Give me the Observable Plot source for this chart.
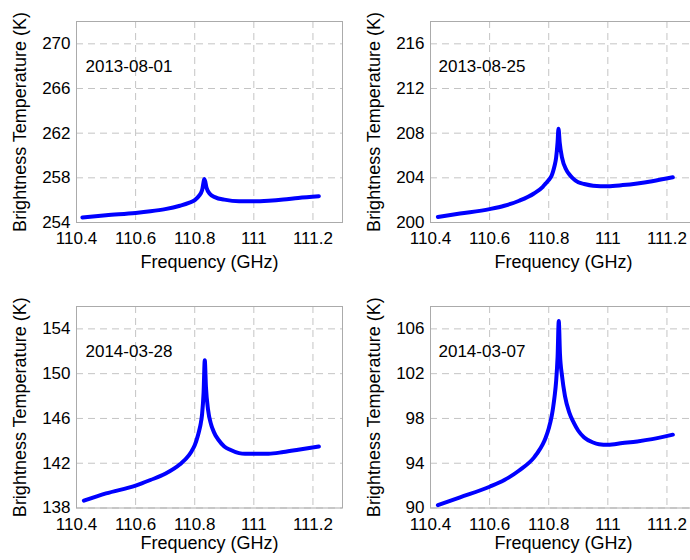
<!DOCTYPE html>
<html>
<head>
<meta charset="utf-8">
<script src="https://cdn.jsdelivr.net/npm/d3@7"></script>
<script src="https://cdn.jsdelivr.net/npm/@observablehq/plot@0.6"></script>
<style>
  html, body { margin: 0; padding: 0; background: #fff; }
  #chart { position: relative; width: 690px; height: 560px; overflow: hidden; background: #fff; }
</style>
</head>
<body>
<div id="chart"></div>
<script>
// ---- data ----
const xTicks = [110.4, 110.6, 110.8, 111, 111.2];
const xLabel = "Frequency (GHz)";
const yLabel = "Brightness Temperature (K)";

const dates = ["2013-08-01", "2013-08-25", "2014-03-28", "2014-03-07"];

const yTicksA = [254, 258, 262, 266, 270];
const yTicksB = [200, 204, 208, 212, 216];
const yTicksC = [138, 142, 146, 150, 154];
const yTicksD = [90, 94, 98, 102, 106];

const freqA = [110.42, 110.5, 110.6, 110.65, 110.7, 110.75, 110.78, 110.8, 110.815, 110.825, 110.833, 110.84, 110.85, 110.87, 110.9, 110.95, 111.0, 111.05, 111.1, 111.15, 111.22];
const tbA   = [254.45, 254.65, 254.85, 255.0, 255.2, 255.5, 255.75, 256.0, 256.4, 256.9, 257.9, 257.1, 256.6, 256.25, 256.05, 255.9, 255.9, 255.95, 256.05, 256.2, 256.35];

const freqB = [110.425, 110.5, 110.6, 110.65, 110.7, 110.75, 110.78, 110.79, 110.8, 110.81, 110.815, 110.82, 110.825, 110.83, 110.833, 110.837, 110.845, 110.86, 110.87, 110.88, 110.9, 110.92, 110.95, 111.0, 111.05, 111.1, 111.15, 111.22];
const tbB   = [200.5, 200.8, 201.2, 201.5, 201.95, 202.6, 203.2, 203.5, 203.8, 204.2, 204.6, 205.1, 205.8, 207.2, 208.4, 207.2, 205.8, 204.7, 204.3, 204.0, 203.6, 203.45, 203.3, 203.25, 203.35, 203.5, 203.7, 204.05];

const freqC = [110.425, 110.5, 110.6, 110.65, 110.7, 110.75, 110.78, 110.79, 110.8, 110.81, 110.815, 110.82, 110.825, 110.83, 110.834, 110.838, 110.845, 110.855, 110.86, 110.87, 110.88, 110.9, 110.92, 110.95, 110.97, 111.0, 111.05, 111.1, 111.15, 111.22];
const tbC   = [138.65, 139.3, 140.0, 140.5, 141.05, 141.9, 142.7, 143.1, 143.6, 144.4, 144.9, 145.5, 146.4, 148.3, 151.2, 148.8, 146.8, 145.5, 145.1, 144.5, 144.1, 143.5, 143.2, 142.9, 142.85, 142.85, 142.85, 143.0, 143.2, 143.5];

const freqD = [110.425, 110.5, 110.6, 110.65, 110.7, 110.75, 110.76, 110.78, 110.79, 110.8, 110.81, 110.815, 110.82, 110.825, 110.83, 110.834, 110.838, 110.845, 110.855, 110.87, 110.885, 110.9, 110.92, 110.95, 110.97, 111.0, 111.05, 111.1, 111.15, 111.22];
const tbD   = [90.25, 90.95, 91.9, 92.5, 93.35, 94.5, 94.85, 95.7, 96.3, 97.1, 98.2, 99.0, 100.0, 101.3, 103.5, 106.7, 103.8, 101.8, 100.0, 98.5, 97.6, 96.9, 96.3, 95.85, 95.7, 95.65, 95.8, 95.95, 96.15, 96.55];

// ---- drawing ----
const FONT = "'Liberation Sans', Arial, Helvetica, sans-serif";

function panel(freq, tb, yTicks, date, opts) {
  const data = freq.map((f, i) => ({f, t: tb[i]}));
  const svg = Plot.plot({
    width: 345,
    height: 280,
    marginLeft: 76,
    marginRight: 3,
    marginTop: opts.mt,
    marginBottom: opts.mb,
    x: {domain: [110.4, 111.3]},
    y: {domain: [yTicks[0], yTicks[0] + 18]},
    style: {fontFamily: FONT, fontSize: "17px", color: "#000", background: "transparent", overflow: "visible"},
    marks: [
      Plot.gridX(xTicks, {stroke: "#c4c4c4", strokeOpacity: 1, strokeDasharray: "7,5"}),
      Plot.gridY(yTicks, {stroke: "#c4c4c4", strokeOpacity: 1, strokeDasharray: "7,5"}),
      Plot.frame({stroke: "#ababab"}),
      Plot.axisX(xTicks, {tickSize: 0, tickPadding: opts.tp, tickFormat: d => String(d), label: null, fontSize: 17}),
      Plot.axisY(yTicks, {tickSize: 0, tickPadding: 6, tickFormat: d => String(d), label: null, fontSize: 17}),
      Plot.line(data, {x: "f", y: "t", stroke: "#0000ff", strokeWidth: 4, curve: "monotone-x"}),
      Plot.text([date], {frameAnchor: "top-left", dx: opts.dx, dy: 45, textAnchor: "start", lineAnchor: "middle", fontSize: 17}),
      Plot.text([xLabel], {frameAnchor: "bottom", dy: opts.lo, lineAnchor: "bottom", textAnchor: "middle", fontSize: 18}),
      Plot.text([yLabel], {frameAnchor: "left", dx: -56, rotate: -90, lineAnchor: "middle", textAnchor: "middle", fontSize: 18})
    ]
  });
  svg.style.position = "absolute";
  svg.style.left = opts.left + "px";
  svg.style.top = opts.top + "px";
  return svg;
}

const chart = document.getElementById("chart");
chart.appendChild(panel(freqA, tbA, yTicksA, dates[0], {left: 0,   top: 0,   mt: 21, mb: 58,   tp: 9,  lo: 45, dx: 9}));
chart.appendChild(panel(freqB, tbB, yTicksB, dates[1], {left: 354, top: 0,   mt: 21, mb: 58,   tp: 9,  lo: 45, dx: 8}));
chart.appendChild(panel(freqC, tbC, yTicksC, dates[2], {left: 0,   top: 280, mt: 26, mb: 52.5, tp: 10, lo: 41, dx: 9}));
chart.appendChild(panel(freqD, tbD, yTicksD, dates[3], {left: 354, top: 280, mt: 26, mb: 52.5, tp: 10, lo: 41, dx: 8}));
</script>
</body>
</html>
